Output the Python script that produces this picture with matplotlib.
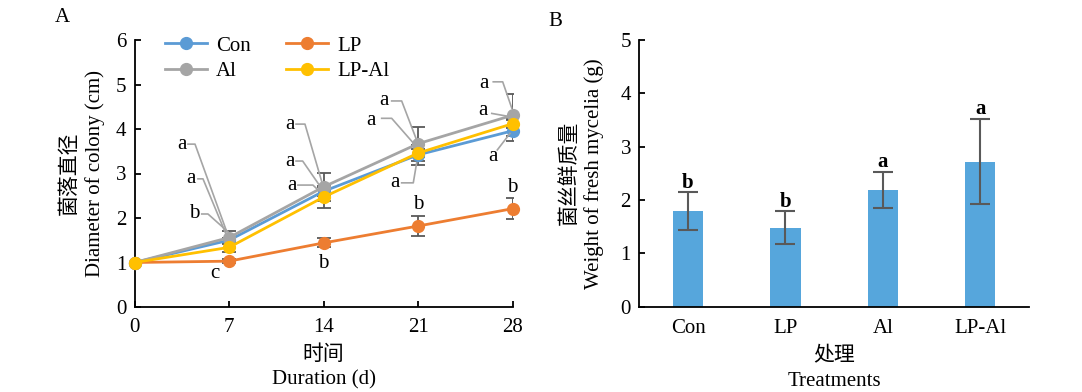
import matplotlib
matplotlib.use("Agg")
import matplotlib.pyplot as plt
import numpy as np

plt.rcParams['font.family'] = ['Liberation Serif', 'Noto Sans CJK SC']
plt.rcParams['font.size'] = 15

# ---------------- data ----------------
days = [0, 7, 14, 21, 28]
series_names = ["Con", "LP", "Al", "LP-Al"]
con_vals = [1.0, 1.50, 2.60, 3.42, 3.96]
lp_vals = [1.0, 1.03, 1.44, 1.82, 2.21]
al_vals = [1.0, 1.56, 2.70, 3.67, 4.31]
lpal_vals = [1.0, 1.34, 2.47, 3.46, 4.12]
con_err = [0.0, 0.05, 0.10, 0.22, 0.24]
lp_err = [0.0, 0.05, 0.10, 0.23, 0.23]
al_err = [0.0, 0.15, 0.31, 0.38, 0.47]
lpal_err = [0.0, 0.10, 0.24, 0.10, 0.10]

treatments = ["Con", "LP", "Al", "LP-Al"]
fresh_weight = [1.79, 1.48, 2.19, 2.72]
fresh_err = [0.35, 0.31, 0.34, 0.80]
fresh_letters = ["b", "b", "a", "a"]

# significance letters in panel A: (letter, text x, text y, leader line xs, leader line ys)
a_letters = [
    ("a", 3.49, 3.66, [3.96, 4.48, 6.83], [3.66, 3.66, 1.69]),
    ("a", 4.16, 2.88, [4.70, 5.07, 6.85], [2.88, 2.88, 1.58]),
    ("b", 4.40, 2.09, [4.98, 5.44, 6.92], [2.09, 2.09, 1.69]),
    ("c", 5.96, 0.76, None, None),
    ("a", 11.51, 4.11, [11.96, 12.62, 13.86], [4.11, 4.11, 2.82]),
    ("a", 11.51, 3.28, [11.96, 12.45, 13.68], [3.28, 3.28, 2.74]),
    ("a", 11.64, 2.74, [12.10, 13.21, 13.66], [2.74, 2.74, 2.61]),
    ("b", 14.0, 0.97, None, None),
    ("a", 18.47, 4.63, [19.04, 19.78, 20.89], [4.63, 4.63, 3.75]),
    ("a", 17.49, 4.20, [18.30, 19.04, 20.77], [4.24, 4.24, 3.64]),
    ("a", 19.29, 2.79, [19.78, 20.64, 20.89], [2.79, 2.79, 3.24]),
    ("b", 21.0, 2.30, None, None),
    ("a", 25.87, 5.03, [26.56, 27.26, 27.93], [5.06, 5.06, 4.47]),
    ("a", 25.78, 4.41, [26.45, 27.75], [4.35, 4.28]),
    ("a", 26.52, 3.38, [26.86, 27.80], [3.53, 3.90]),
    ("b", 27.93, 2.69, None, None),
]

colors = ["#5B9BD5", "#ED7D31", "#A5A5A5", "#FFC000"]
err_color = "#595959"
bar_color = "#56A6DC"

fig = plt.figure(figsize=(10.82, 3.92), dpi=100)
ax1 = fig.add_axes([134.5 / 1082, 1 - 307 / 392, (512.7 - 134.5) / 1082, (307 - 40) / 392])
ax2 = fig.add_axes([639.3 / 1082, 1 - 306.5 / 392, (1029 - 639.3) / 1082, (306.5 - 40) / 392])

# ---------------- panel A ----------------
all_vals = [con_vals, lp_vals, al_vals, lpal_vals]
all_errs = [con_err, lp_err, al_err, lpal_err]
for vals, errs in zip(all_vals, all_errs):
    ax1.errorbar(days, vals, yerr=errs, fmt='none', ecolor=err_color,
                 elinewidth=1.3, capsize=5, capthick=1.3, zorder=2)
handles = {}
for name, vals, c in zip(series_names, all_vals, colors):
    h, = ax1.plot(days, vals, color=c, lw=2, marker='o', markersize=8.5,
                  label=name, zorder=3, clip_on=False)
    handles[name] = h

for letter, tx, ty, lx, ly in a_letters:
    ax1.text(tx, ty, letter, ha='center', va='center', fontsize=15, zorder=5)
    if lx is not None:
        ax1.plot(lx, ly, color="#A5A5A5", lw=1.2, zorder=4, clip_on=False)

ax1.set_xlim(0, 28)
ax1.set_ylim(0, 6)
ax1.set_xticks(days)
ax1.set_yticks(range(0, 7))
ax1.set_xlabel("时间\nDuration (d)", fontsize=15, labelpad=6, linespacing=1.35)
ax1.set_ylabel("菌落直径\nDiameter of colony (cm)", fontsize=15, labelpad=8, linespacing=1.3)
order = ["Con", "Al", "LP", "LP-Al"]
ax1.legend([handles[n] for n in order], order, ncol=2, loc='upper left',
           bbox_to_anchor=(0.081, 1.015), frameon=False, borderpad=0, borderaxespad=0,
           handlelength=2.0, columnspacing=1.7, handletextpad=0.45,
           labelspacing=0.3, fontsize=15)

# ---------------- panel B ----------------
xpos = np.arange(len(treatments))
ax2.bar(xpos, fresh_weight, width=0.31, color=bar_color, zorder=2)
ax2.errorbar(xpos, fresh_weight, yerr=fresh_err, fmt='none', ecolor=err_color,
             elinewidth=1.5, capsize=7, capthick=1.5, zorder=3)
for x, v, e, l in zip(xpos, fresh_weight, fresh_err, fresh_letters):
    ax2.text(x, v + e - 0.01, l, ha='center', va='bottom', fontsize=15, fontweight='bold')
ax2.set_xlim(-0.5, 3.5)
ax2.set_ylim(0, 5)
ax2.set_xticks(xpos)
ax2.set_xticklabels(treatments)
ax2.set_yticks(range(0, 6))
ax2.set_xlabel("处理\nTreatments", fontsize=15, labelpad=7, linespacing=1.35)
ax2.set_ylabel("菌丝鲜质量\nWeight of fresh mycelia (g)", fontsize=15, labelpad=12, linespacing=1.3)

for ax in (ax1, ax2):
    for s in ('top', 'right'):
        ax.spines[s].set_visible(False)
    for s in ('left', 'bottom'):
        ax.spines[s].set_linewidth(1.3)
    ax.tick_params(direction='in', length=4, width=1.3, labelsize=15, pad=6)
ax1.tick_params(axis='x', pad=8)
ax2.tick_params(axis='x', length=0, pad=9)

fig.text(62 / 1082, 1 - 18 / 392, "A", fontsize=15, ha='center', va='center')
fig.text(555 / 1082, 1 - 22 / 392, "B", fontsize=15, ha='center', va='center')

fig.savefig("out.png", dpi=100)
